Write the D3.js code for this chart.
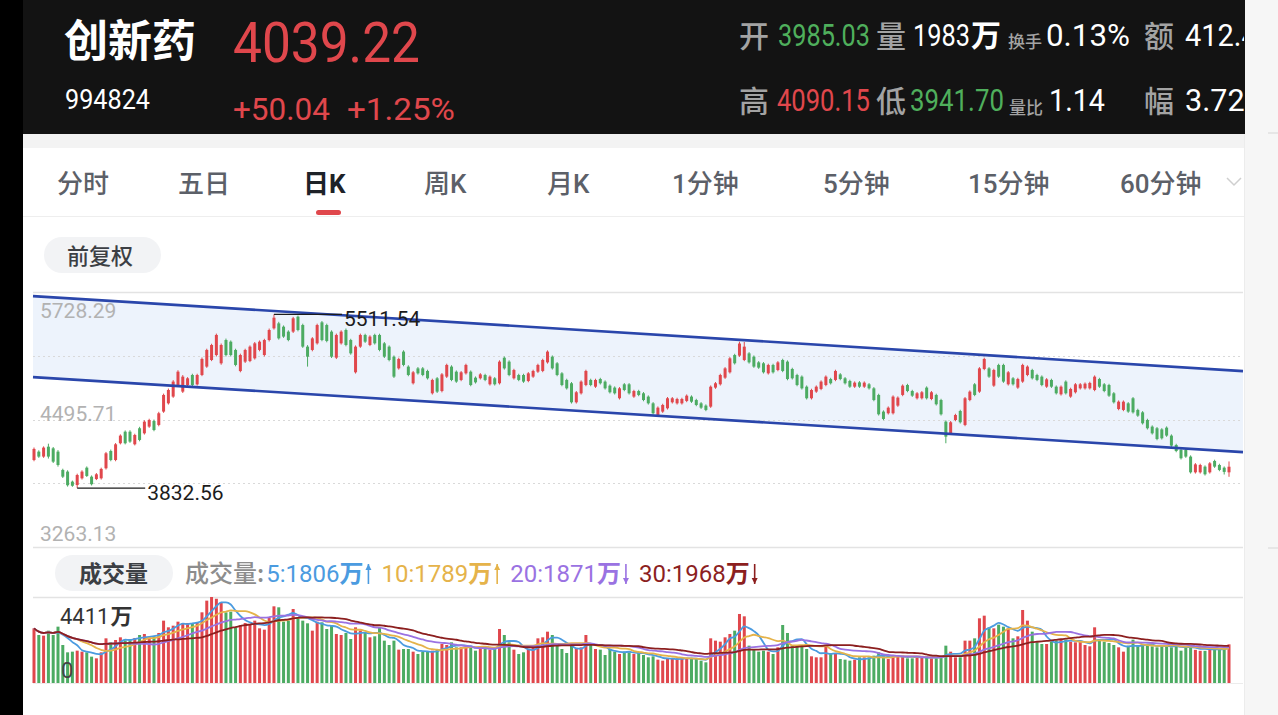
<!DOCTYPE html>
<html>
<head>
<meta charset="utf-8">
<script src="https://cdn.jsdelivr.net/npm/d3@7/dist/d3.min.js"></script>
<style>
  body { margin: 0; background: #fff; overflow: hidden; }
  svg { display: block; font-family: Roboto, "Noto Sans CJK SC", sans-serif; }
</style>
</head>
<body>
<svg id="chart" width="1278" height="715"></svg>
<script>
// ---- quote header ----
const stockName = "创新药", stockCode = "994824";
const lastPrice = "4039.22", change = "+50.04", changePct = "+1.25%";
const openPx = "3985.03", highPx = "4090.15", lowPx = "3941.70";
const volume = "1983", turnover = "0.13%", volRatio = "1.14", amount = "412.47亿", amplitude = "3.72%";
const tabs = ["分时", "五日", "日K", "周K", "月K", "1分钟", "5分钟", "15分钟", "60分钟"];
const activeTab = 2;

// ---- daily candles ----
const opens = [4104,4185,4137,4233,4217,4185,4008,3992,3895,3862,
3927,4030,3943,3920,3927,4024,4191,4104,4266,4378,
4378,4256,4411,4362,4427,4481,4443,4572,4652,4717,
4829,4765,4829,4926,4835,4926,5007,5071,5119,5039,
5264,5248,5168,4964,5055,5061,5087,5168,5119,5264,
5377,5425,5393,5345,5345,5490,5409,5200,5168,5232,
5435,5409,5345,5093,5232,5361,5264,4952,5200,5313,
5216,5313,5313,5232,5200,5103,4990,5152,5007,4846,
4990,4990,4965,4749,4894,4771,4910,5007,4958,4878,
4942,4958,4900,4894,4926,4836,4894,4846,5093,5055,
4894,4926,4926,4868,4910,4958,4965,5048,5103,5039,
4942,4878,4846,4662,4749,4829,4878,4813,4887,4862,
4823,4804,4701,4836,4836,4717,4771,4749,4717,4652,
4539,4572,4604,4662,4652,4652,4675,4717,4684,4652,
4630,4620,4804,4836,4900,4952,5119,5113,5071,5135,
5103,5048,5039,4942,5023,4974,5071,5055,4984,4926,
4910,4813,4701,4765,4791,4829,4887,4878,4932,4894,
4868,4813,4855,4813,4836,4797,4733,4572,4556,4556,
4630,4733,4829,4771,4701,4701,4804,4694,4733,4684,
4475,4362,4491,4578,4443,4684,4836,4765,4984,4990,
4823,5023,5023,4836,4894,4804,4862,4926,4974,4926,
4910,4813,4878,4813,4739,4862,4717,4759,4797,4797,
4797,4781,4887,4836,4829,4749,4597,4588,4652,4701,
4588,4565,4491,4427,4411,4400,4417,4340,4249,4201,
4201,4137,3985,3985,4040,3985,4095,4056,4030,3985.03];

const closes = [4211,4137,4224,4137,4088,4056,3943,3860,3855,3959,
3992,3950,3870,3966,4018,4169,4104,4256,4340,4266,
4282,4346,4298,4475,4491,4394,4556,4733,4781,4862,
4958,4910,4894,4829,4926,5081,5168,5216,5313,5216,
5119,5119,5023,5119,5168,5200,5232,5248,5264,5361,
5480,5280,5297,5264,5474,5361,5200,5103,5280,5409,
5264,5255,5103,5313,5345,5216,5135,5200,5313,5248,
5297,5232,5168,5103,5071,4910,5081,5023,4926,4952,
4942,4926,4894,4878,4765,4932,5023,4878,4862,4952,
5023,4829,4855,4932,4878,4910,4836,5055,4990,4926,
4974,4878,4862,4942,4965,5023,5071,5152,4990,4926,
4829,4797,4662,4759,4862,4965,4829,4878,4846,4797,
4759,4749,4797,4781,4749,4771,4733,4684,4652,4556,
4610,4636,4701,4701,4694,4694,4726,4668,4636,4610,
4588,4813,4846,4926,4990,5087,5039,5230,5200,5048,
5007,4997,4952,5023,4952,5048,4965,4887,4894,4829,
4797,4701,4781,4813,4862,4910,4846,4965,4887,4846,
4813,4852,4813,4852,4797,4684,4546,4501,4610,4717,
4707,4823,4771,4726,4749,4759,4701,4759,4643,4546,
4330,4469,4539,4469,4701,4765,4733,4990,5081,4910,
4974,4910,4862,4952,4836,4887,5023,5007,4894,4878,
4829,4884,4813,4749,4813,4749,4791,4836,4836,4842,
4849,4910,4813,4771,4726,4662,4668,4668,4572,4565,
4533,4459,4411,4362,4307,4314,4340,4243,4191,4121,
4137,3985,4062,4056,3966,4072,4040,4008,3989.18,4039.22];

const highs = [4225,4198,4236,4262,4230,4200,4020,4005,3905,3972,
4005,4042,3955,3978,4030,4182,4205,4268,4352,4390,
4392,4358,4425,4488,4503,4495,4570,4746,4795,4876,
4972,4925,4905,4938,4938,5095,5180,5228,5326,5230,
5278,5260,5180,5132,5180,5212,5245,5260,5276,5375,
5511.54,5440,5405,5358,5488,5500,5422,5215,5292,5422,
5448,5422,5358,5326,5358,5375,5276,5212,5326,5325,
5310,5325,5325,5245,5212,5115,5093,5165,5020,4965,
5003,5003,4977,4890,4906,4945,5035,5020,4970,4964,
5035,4970,4912,4944,4938,4922,4906,5068,5105,5068,
4986,4938,4938,4954,4977,5035,5083,5164,5115,5051,
4954,4890,4858,4771,4874,4977,4890,4890,4899,4874,
4835,4816,4809,4848,4848,4783,4783,4761,4729,4664,
4622,4648,4713,4713,4706,4706,4738,4729,4696,4664,
4642,4825,4858,4938,5002,5099,5131,5248,5245,5147,
5115,5060,5051,5035,5035,5060,5083,5067,4996,4938,
4922,4825,4793,4825,4874,4922,4899,4977,4944,4906,
4880,4864,4867,4864,4848,4809,4745,4584,4622,4729,
4719,4835,4841,4783,4761,4771,4816,4771,4745,4696,
4487,4481,4551,4590,4713,4777,4848,5002,5093,5002,
4986,5035,5035,4964,4906,4899,5035,5019,4986,4938,
4922,4896,4890,4825,4825,4874,4803,4848,4848,4854,
4861,4922,4899,4848,4841,4761,4680,4680,4664,4713,
4600,4577,4503,4439,4423,4412,4429,4352,4261,4213,
4213,4149,4074,4068,4052,4084,4107,4068,4042,4090.15];

const lows = [4092,4125,4125,4118,4075,4040,3930,3847,3845,3832.56,
3915,3940,3858,3910,3915,4012,4092,4092,4255,4255,
4270,4245,4285,4350,4415,4382,4430,4560,4640,4705,
4815,4752,4818,4818,4824,4915,4995,5060,5105,5025,
5105,5105,5010,4952,5042,5050,5075,5155,5105,5250,
5365,5268,5285,5252,5332,5348,5188,5007,5155,5220,
5252,5242,5090,5080,5220,5203,5122,4940,5188,5236,
5205,5220,5155,5090,5058,4897,4978,5010,4914,4834,
4930,4914,4882,4737,4752,4758,4897,4866,4850,4866,
4930,4817,4843,4882,4866,4824,4824,4834,4978,4914,
4882,4866,4850,4856,4898,4946,4953,5036,4978,4914,
4817,4785,4650,4650,4737,4817,4817,4801,4834,4785,
4747,4737,4689,4769,4737,4705,4721,4672,4640,4544,
4527,4560,4592,4650,4640,4640,4663,4656,4624,4598,
4576,4608,4792,4824,4888,4940,5027,5101,5060,5036,
4995,4985,4940,4930,4940,4962,4953,4875,4882,4817,
4785,4689,4689,4753,4779,4817,4834,4866,4875,4834,
4801,4801,4801,4801,4785,4672,4534,4489,4544,4544,
4618,4721,4759,4714,4689,4689,4689,4682,4631,4534,
4266,4350,4479,4457,4431,4672,4721,4753,4972,4898,
4811,4898,4850,4824,4824,4792,4850,4914,4882,4866,
4817,4801,4801,4737,4727,4737,4705,4747,4785,4785,
4785,4769,4801,4759,4714,4650,4585,4576,4560,4553,
4521,4447,4399,4350,4295,4302,4328,4231,4179,4109,
4125,3973,3973,3973,3954,3973,4028,3996,3964,3941.70];

// volume, 万
const volumes = [2804,2462,2428,2685,2462,2890,1949,1573,1607,1659,
1607,1573,1351,1265,1573,2291,2086,2206,2343,2172,
2223,2309,2462,2514,2343,2394,2565,3198,2856,2941,
3146,3078,3078,3061,3112,3625,4224,4411,4320,4104,
3625,3659,2856,2941,3078,3027,3198,2804,2736,3369,
3933,3882,3146,3198,3796,3369,3198,3061,2685,3146,
3112,2770,2941,2514,2462,2565,2257,2856,2685,2565,
2343,2394,2856,2172,1949,2172,1710,1744,1744,1607,
1488,1607,1642,1659,1710,2001,1949,2086,1830,1830,
1881,1830,1659,1778,1830,1710,1744,2770,2462,2086,
1710,1488,1573,1744,1915,2291,2343,2633,2462,1915,
1744,1539,1915,1744,1830,2462,2001,1744,1710,1436,
1744,1607,1488,1607,1573,1488,1539,1436,1317,1368,
1197,1146,1265,1265,1265,1231,1265,1265,1231,1146,
1060,2291,2172,2120,2343,2514,2685,3540,3420,1915,
1744,1607,1659,1607,1488,1830,2975,2565,1881,1915,
1881,1744,1368,1317,1317,1915,1539,1488,1231,1197,
1146,1197,1317,1317,1317,1402,1573,1368,1231,1402,
1368,1402,1265,1265,1317,1317,1368,1265,1265,1368,
1915,1607,1317,1317,2172,2172,2291,3317,3454,2856,
2804,2993,2890,2804,2291,2394,3745,3198,2633,2086,
2001,2001,2120,2172,2223,2223,2120,2086,2120,1949,
1881,2856,2223,2120,2052,1949,1830,1607,1915,2223,
1915,1915,1949,1881,1830,1949,1881,1830,1949,1659,
1880,1880,1700,1650,1650,1800,1800,1700,1750,1983];

const priceTicks = [5728.29, 4495.71, 3263.13];
const volMax = 4411;

// trend channel drawn on the chart: price at first and last candle
const channelUpper = [5688, 4972];
const channelLower = [4905, 4189];

// volume moving averages
const maPeriods = [5, 10, 20, 30];
const maLatest = [1806, 1789, 1871, 1968];
const maTrend = ["up", "up", "down", "down"];
const maColors = ["#4b9be0", "#e5b34a", "#9a72e2", "#8c1f1f"];

const RED = "#e0474c", GREEN = "#4cab62", GRAY = "#a3a3a3";

const svg = d3.select("#chart");
const N = closes.length;

// ---------- page chrome ----------
svg.append("rect").attr("width", 1278).attr("height", 715).attr("fill", "#fff");
svg.append("rect").attr("x", 1244).attr("width", 34).attr("height", 715).attr("fill", "#f6f6f6");
svg.append("line").attr("x1", 1244.5).attr("x2", 1244.5).attr("y1", 134).attr("y2", 715)
  .attr("stroke", "#ececec");
svg.append("rect").attr("width", 1245).attr("height", 134).attr("fill", "#131313");
svg.append("rect").attr("width", 23).attr("height", 715).attr("fill", "#000");
svg.append("rect").attr("x", 23).attr("y", 134).attr("width", 1221).attr("height", 14).attr("fill", "#f3f3f3");
svg.append("line").attr("x1", 23).attr("x2", 1244).attr("y1", 216.5).attr("y2", 216.5).attr("stroke", "#eeeeee");
[133, 548].forEach(yy => svg.append("line").attr("x1", 1268).attr("x2", 1278)
  .attr("y1", yy).attr("y2", yy).attr("stroke", "#d6d6d6"));

svg.append("clipPath").attr("id", "hclip").append("rect").attr("width", 1244).attr("height", 134);
const head = svg.append("g").attr("clip-path", "url(#hclip)");

// condensed numbers: squeeze horizontally to the wanted width
function num(g, t, x, y, size, fill, w) {
  const el = g.append("text").attr("font-size", size).attr("fill", fill).text(t);
  const sx = w ? w / el.node().getComputedTextLength() : 1;
  el.attr("transform", `translate(${x},${y}) scale(${sx},1)`);
  return el;
}
function cjk(g, t, x, y, size, fill, weight) {
  return g.append("text").attr("x", x).attr("y", y).attr("font-size", size).attr("fill", fill)
    .attr("font-family", "'Noto Sans CJK SC', sans-serif").attr("font-weight", weight || 500).text(t);
}

cjk(head, stockName, 64, 57, 44, "#fff", 700);
num(head, lastPrice, 233, 62, 56, RED, 187);
num(head, stockCode, 65, 109, 27, "#fff", 85);
num(head, change, 233, 120, 31, RED, 97);
num(head, changePct, 347, 120, 31, RED, 108);

cjk(head, "开", 739, 47, 30, GRAY);
num(head, openPx, 778, 46, 31, "#4faf5c", 92);
cjk(head, "量", 876, 47, 30, GRAY);
num(head, volume, 913, 46, 31, "#fff", 57);
cjk(head, "万", 971, 46, 30, "#fff", 700);
cjk(head, "换手", 1008, 48, 17, GRAY);
num(head, turnover, 1046, 46, 31, "#fff", 84);
cjk(head, "额", 1144, 47, 30, GRAY);
num(head, amount, 1185, 46, 31, "#fff", 118);

cjk(head, "高", 739, 112, 30, GRAY);
num(head, highPx, 777, 111, 31, RED, 93);
cjk(head, "低", 876, 112, 30, GRAY);
num(head, lowPx, 910, 111, 31, "#4faf5c", 94);
cjk(head, "量比", 1009, 114, 17, GRAY);
num(head, volRatio, 1049, 111, 31, "#fff", 56);
cjk(head, "幅", 1144, 112, 30, GRAY);
num(head, amplitude, 1185, 111, 31, "#fff", 82);

// ---------- period tabs ----------
const tabX = [57, 178, 303, 424, 547, 672, 823, 968, 1120];
tabs.forEach((t, i) => {
  svg.append("text").attr("x", tabX[i]).attr("y", 193)
    .attr("font-size", 26).attr("font-weight", i === activeTab ? 700 : 500)
    .attr("fill", i === activeTab ? "#1e2228" : "#5c6068").text(t);
});
svg.append("rect").attr("x", 316).attr("y", 210).attr("width", 25).attr("height", 5).attr("rx", 2.5).attr("fill", RED);
svg.append("path").attr("d", "M1227,178 L1234,185 L1241,178").attr("fill", "none").attr("stroke", "#cfcfcf").attr("stroke-width", 1.5);

// pill
svg.append("rect").attr("x", 44).attr("y", 237).attr("width", 117).attr("height", 36).attr("rx", 18).attr("fill", "#f2f3f5");
cjk(svg, "前复权", 67, 264, 22, "#3c3f44");

// ---------- price panel ----------
const plot = {left: 33, right: 1243, top: 292, bottom: 547};
const x = d3.scaleLinear().domain([0, N - 1]).range([34, 1229]);
const y = d3.scaleLinear().domain([priceTicks[2], priceTicks[0]]).range([plot.bottom, plot.top]);

const chanAt = (c, i) => c[0] + (c[1] - c[0]) * i / (N - 1);
const ends = [x.invert(plot.left), x.invert(plot.right)];
svg.append("path")
  .attr("d", d3.area().x(d => x(d)).y0(d => y(chanAt(channelLower, d))).y1(d => y(chanAt(channelUpper, d)))(ends))
  .attr("fill", "#edf3fc");

svg.append("line").attr("x1", plot.left).attr("x2", plot.right).attr("y1", plot.top + 0.5).attr("y2", plot.top + 0.5)
  .attr("stroke", "#e3e3e3").attr("stroke-width", 1.5);
svg.append("line").attr("x1", plot.left).attr("x2", plot.right).attr("y1", plot.bottom + 0.5).attr("y2", plot.bottom + 0.5)
  .attr("stroke", "#e3e3e3").attr("stroke-width", 1.5);
const gridVals = d3.range(1, 4).map(k => priceTicks[0] - (priceTicks[0] - priceTicks[2]) * k / 4);
svg.selectAll(".grid").data(gridVals).enter().append("line")
  .attr("x1", plot.left).attr("x2", plot.right)
  .attr("y1", d => Math.round(y(d)) + 0.5).attr("y2", d => Math.round(y(d)) + 0.5)
  .attr("stroke", "#d9d9d9").attr("stroke-dasharray", "2,3");

const tickDy = [26, 1, -6];
svg.selectAll(".ptick").data(priceTicks).enter().append("text")
  .attr("x", 40).attr("y", (d, i) => y(d) + tickDy[i])
  .attr("font-size", 21).attr("fill", "#b2b2b2")
  .text(d => d.toFixed(2));

const idx = d3.range(N);
const color = i => closes[i] >= opens[i] ? RED : GREEN;
const cw = 3;

svg.append("g").selectAll("line").data(idx).enter().append("line")
  .attr("x1", i => x(i)).attr("x2", i => x(i))
  .attr("y1", i => y(highs[i])).attr("y2", i => y(lows[i]))
  .attr("stroke", color).attr("stroke-width", 1);
svg.append("g").selectAll("rect").data(idx).enter().append("rect")
  .attr("x", i => x(i) - cw / 2).attr("width", cw)
  .attr("y", i => y(Math.max(opens[i], closes[i])))
  .attr("height", i => Math.max(1, Math.abs(y(opens[i]) - y(closes[i]))))
  .attr("fill", color);

// channel lines
[channelUpper, channelLower].forEach(c => {
  svg.append("path")
    .attr("d", d3.line().x(d => x(d)).y(d => y(chanAt(c, d)))(ends))
    .attr("stroke", "#2a46ab").attr("stroke-width", 2.6).attr("fill", "none");
});

// high / low markers
const iHigh = d3.maxIndex(highs), iLow = d3.minIndex(lows);
[[iHigh, highs[iHigh]], [iLow, lows[iLow]]].forEach(([i, v]) => {
  const yy = y(v);
  svg.append("line").attr("x1", x(i)).attr("x2", x(i) + 68).attr("y1", yy).attr("y2", yy)
    .attr("stroke", "#1c1c1c").attr("stroke-width", 1.4);
  svg.append("text").attr("x", x(i) + 70).attr("y", yy + 12).attr("font-size", 21)
    .attr("fill", "#1c1c1c").text(v.toFixed(2));
});

// ---------- volume panel ----------
svg.append("rect").attr("x", 55).attr("y", 555).attr("width", 118).attr("height", 36).attr("rx", 18).attr("fill", "#f2f3f5");
cjk(svg, "成交量", 79, 582, 23, "#3c3f44", 700);

let lx = 185;
const lt = cjk(svg, "成交量:", lx, 582, 24, "#8d8d8d");
lx += lt.node().getComputedTextLength() + 2;
maPeriods.forEach((p, k) => {
  const t = svg.append("text").attr("x", lx).attr("y", 582).attr("font-size", 24).attr("fill", maColors[k]);
  t.append("tspan").text(p + ":" + maLatest[k]);
  t.append("tspan").attr("font-family", "'Noto Sans CJK SC', sans-serif").attr("font-weight", 700).text("万");
  lx += t.node().getComputedTextLength() + 5;
  const up = maTrend[k] === "up";
  const ax = lx, yTop = 564, yBot = 584;
  svg.append("line").attr("x1", ax).attr("x2", ax).attr("y1", yTop).attr("y2", yBot)
    .attr("stroke", maColors[k]).attr("stroke-width", 1.6);
  const tip = up ? yTop : yBot, dir = up ? 1 : -1;
  svg.append("path").attr("d", `M${ax - 3},${tip + dir * 6} L${ax},${tip} L${ax + 3},${tip + dir * 6} Z`)
    .attr("fill", maColors[k]);
  lx += 13;
});

const vol = {top: 597, bottom: 683};
svg.append("line").attr("x1", plot.left).attr("x2", plot.right).attr("y1", vol.top + 0.5).attr("y2", vol.top + 0.5)
  .attr("stroke", "#e3e3e3").attr("stroke-width", 1.5);
svg.append("line").attr("x1", plot.left).attr("x2", plot.right).attr("y1", vol.bottom + 0.5).attr("y2", vol.bottom + 0.5)
  .attr("stroke", "#ececec");

const yv = d3.scaleLinear().domain([0, volMax]).range([vol.bottom, vol.top]);
svg.append("g").selectAll("rect").data(idx).enter().append("rect")
  .attr("x", i => x(i) - cw / 2).attr("width", cw)
  .attr("y", i => yv(volumes[i])).attr("height", i => vol.bottom - yv(volumes[i]))
  .attr("fill", color);

maPeriods.forEach((p, k) => {
  const ma = idx.map(i => d3.mean(volumes.slice(Math.max(0, i - p + 1), i + 1)));
  svg.append("path")
    .attr("d", d3.line().x((d, i) => x(i)).y(d => yv(d)).curve(d3.curveMonotoneX)(ma))
    .attr("fill", "none").attr("stroke", maColors[k]).attr("stroke-width", 1.8);
});

const vmax = svg.append("text").attr("x", 60).attr("y", 624).attr("font-size", 22).attr("fill", "#333").text(volMax);
cjk(svg, "万", 60 + vmax.node().getComputedTextLength() + 1, 624, 22, "#333", 700);
svg.append("text").attr("x", 61).attr("y", 678).attr("font-size", 22).attr("fill", "#444").text("0");
</script>
</body>
</html>
